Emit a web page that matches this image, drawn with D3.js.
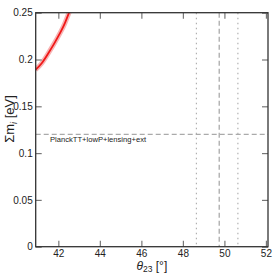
<!DOCTYPE html>
<html>
<head>
<meta charset="utf-8">
<script src="https://cdn.jsdelivr.net/npm/d3@7"></script>
<style>
  body { margin: 0; background: #fff; }
  text { font-family: "Liberation Sans", Arial, sans-serif; }
</style>
</head>
<body>
<div id="chart"></div>
<script>
var width = 273, height = 275,
    margin = {top: 12.7, right: 5, bottom: 28.3, left: 35.7};

// red band: theta23 [deg] vs sum of masses [eV]
var curveTheta = [40.9, 41.2, 41.5, 41.8, 42.1, 42.3, 42.55];
var curveSum   = [0.189, 0.196, 0.206, 0.217, 0.229, 0.238, 0.252];
var planckLimit = 0.12, planckLabel = "PlanckTT+lowP+lensing+ext";
var dashedTheta = [49.75];
var dottedTheta = [48.65, 50.65];
var xTicks = [42, 44, 46, 48, 50, 52];
var yTicks = [0, 0.05, 0.1, 0.15, 0.2, 0.25];
var yTickLabels = ["0", "0.05", "0.1", "0.15", "0.2", "0.25"];

var svg = d3.select("#chart").append("svg")
    .attr("width", width)
    .attr("height", height);

var w = width - margin.left - margin.right,
    h = height - margin.top - margin.bottom;

var x = d3.scaleLinear().domain([40.91, 52.1]).range([0, w]);
var y = d3.scaleLinear().domain([0, 0.25]).range([h, 0]);

var g = svg.append("g")
    .attr("transform", "translate(" + margin.left + "," + margin.top + ")");

svg.append("clipPath").attr("id", "clip")
  .append("rect").attr("width", w).attr("height", h);

var plot = g.append("g").attr("clip-path", "url(#clip)");

var pts = curveTheta.map(function(t, i) { return [t, curveSum[i]]; });
var line = d3.line()
    .x(function(d) { return x(d[0]); })
    .y(function(d) { return y(d[1]); })
    .curve(d3.curveNatural);

plot.append("path").datum(pts)
    .attr("d", line)
    .attr("fill", "none")
    .attr("stroke", "#f7b4b4")
    .attr("stroke-width", 5);
plot.append("path").datum(pts)
    .attr("d", line)
    .attr("fill", "none")
    .attr("stroke", "#f01818")
    .attr("stroke-width", 1.8);

// reference lines
plot.append("line")
    .attr("x1", 0).attr("x2", w)
    .attr("y1", y(planckLimit)).attr("y2", y(planckLimit))
    .attr("stroke", "#aaa").attr("stroke-width", 1.3)
    .attr("stroke-dasharray", "5,3");

plot.selectAll(".vdash").data(dashedTheta).enter().append("line")
    .attr("x1", function(d) { return x(d); }).attr("x2", function(d) { return x(d); })
    .attr("y1", 0).attr("y2", h)
    .attr("stroke", "#aaa").attr("stroke-width", 1.3)
    .attr("stroke-dasharray", "5,3");

plot.selectAll(".vdot").data(dottedTheta).enter().append("line")
    .attr("x1", function(d) { return x(d); }).attr("x2", function(d) { return x(d); })
    .attr("y1", 0).attr("y2", h)
    .attr("stroke", "#aaa").attr("stroke-width", 1.1)
    .attr("stroke-dasharray", "1.5,3.5");

g.append("text")
    .attr("x", x(41.6)).attr("y", y(planckLimit) + 8)
    .attr("font-size", 7.6)
    .attr("fill", "#222")
    .text(planckLabel);

// axes, ticks inside on all four sides
var tickLen = 6;
function styleAxis(sel) {
  sel.select(".domain").remove();
  sel.selectAll(".tick line").attr("stroke", "#777").attr("stroke-width", 1.2);
  sel.selectAll(".tick text").attr("fill", "#222").attr("font-size", 10)
     .attr("font-family", "Liberation Sans, Arial, sans-serif");
}

g.append("g").attr("transform", "translate(0," + h + ")")
    .call(d3.axisBottom(x).tickValues(xTicks).tickSizeInner(-tickLen).tickSizeOuter(0).tickPadding(3))
    .call(styleAxis);
g.append("g")
    .call(d3.axisTop(x).tickValues(xTicks).tickSizeInner(-tickLen).tickSizeOuter(0).tickFormat(""))
    .call(styleAxis);
g.append("g")
    .call(d3.axisLeft(y).tickValues(yTicks).tickSizeInner(-tickLen).tickSizeOuter(0).tickPadding(3)
      .tickFormat(function(d, i) { return yTickLabels[i]; }))
    .call(styleAxis);
g.append("g").attr("transform", "translate(" + w + ",0)")
    .call(d3.axisRight(y).tickValues(yTicks).tickSizeInner(-tickLen).tickSizeOuter(0).tickFormat(""))
    .call(styleAxis);

g.append("rect")
    .attr("width", w).attr("height", h)
    .attr("fill", "none")
    .attr("stroke", "#333").attr("stroke-width", 1.3);

// axis titles
var xl = g.append("text")
    .attr("x", w / 2).attr("y", h + 23)
    .attr("text-anchor", "middle")
    .attr("font-size", 12)
    .attr("fill", "#222");
xl.append("tspan").attr("font-style", "italic").text("θ");
xl.append("tspan").attr("font-size", 8.5).attr("dy", 2.5).text("23");
xl.append("tspan").attr("dy", -2.5).text(" [°]");

var yl = svg.append("text")
    .attr("transform", "translate(14," + 119 + ") rotate(-90)")
    .attr("text-anchor", "middle")
    .attr("font-size", 13)
    .attr("fill", "#222");
yl.append("tspan").text("Σm");
yl.append("tspan").attr("font-size", 9).attr("font-style", "italic").attr("dy", 3).text("i");
yl.append("tspan").attr("dy", -3).text(" [eV]");
</script>
</body>
</html>
